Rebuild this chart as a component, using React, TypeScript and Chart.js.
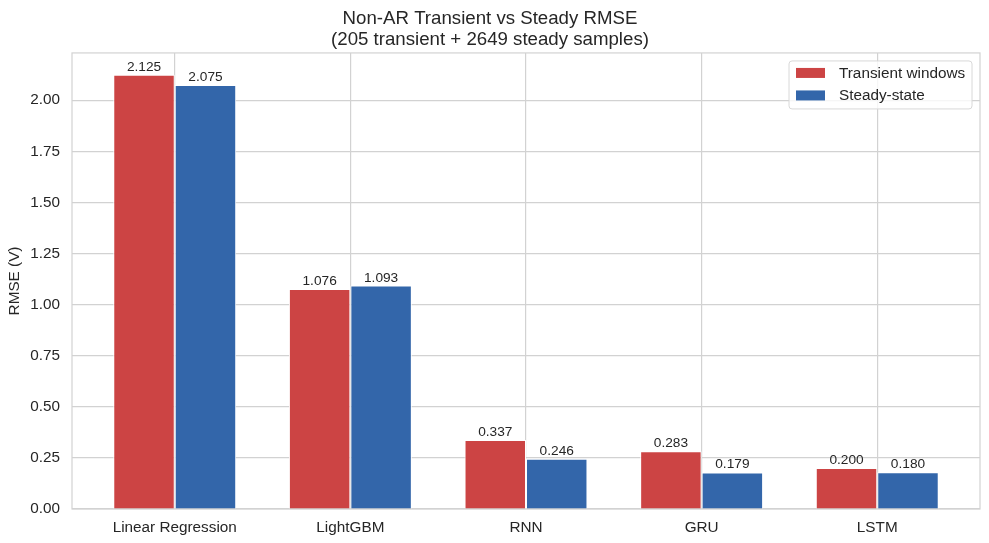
import React, { useEffect, useRef } from 'react';
import { Chart, registerables } from 'chart.js';

Chart.register(...registerables);

const categories = ['Linear Regression', 'LightGBM', 'RNN', 'GRU', 'LSTM'];
const transientRmse = [2.125, 1.076, 0.337, 0.283, 0.2];
const steadyRmse = [2.075, 1.093, 0.246, 0.179, 0.18];
const yTickValues = [0, 0.25, 0.5, 0.75, 1.0, 1.25, 1.5, 1.75, 2.0];
const seriesLabels = ['Transient windows', 'Steady-state'];
const seriesColors = ['#cc4444', '#3366aa'];
const titleLines = ['Non-AR Transient vs Steady RMSE', '(205 transient + 2649 steady samples)'];
const yAxisTitle = 'RMSE (V)';

const FONT = "'Liberation Sans', Arial, Helvetica, sans-serif";
const TEXT = '#262626';
const GRID = '#d2d2d2';

const frameBox = {
  id: 'frameBox',
  beforeDatasetsDraw(chart: any) {
    const { ctx, chartArea } = chart;
    ctx.save();
    ctx.strokeStyle = GRID;
    ctx.lineWidth = 1.2;
    ctx.strokeRect(chartArea.left, chartArea.top, chartArea.right - chartArea.left, chartArea.bottom - chartArea.top);
    ctx.restore();
  },
};

const valueLabels = {
  id: 'valueLabels',
  afterDatasetsDraw(chart: any) {
    const { ctx } = chart;
    ctx.save();
    ctx.font = `13.7px ${FONT}`;
    ctx.fillStyle = TEXT;
    ctx.textAlign = 'center';
    ctx.textBaseline = 'alphabetic';
    chart.data.datasets.forEach((ds: any, di: number) => {
      const meta = chart.getDatasetMeta(di);
      meta.data.forEach((bar: any, i: number) => {
        const v = ds.data[i].y as number;
        ctx.fillText(v.toFixed(3), bar.x, bar.y - 4);
      });
    });
    ctx.restore();
  },
};

const boxLegend = {
  id: 'boxLegend',
  afterDraw(chart: any) {
    const { ctx, chartArea } = chart;
    const w = 183;
    const h = 48;
    const left = chartArea.right - 8 - w;
    const top = chartArea.top + 8;
    ctx.save();
    ctx.beginPath();
    ctx.roundRect(left, top, w, h, 3);
    ctx.fillStyle = 'rgba(255,255,255,0.8)';
    ctx.fill();
    ctx.strokeStyle = '#d8d8d8';
    ctx.lineWidth = 1;
    ctx.stroke();
    ctx.font = `15.3px ${FONT}`;
    ctx.textBaseline = 'middle';
    ctx.textAlign = 'left';
    seriesLabels.forEach((label, i) => {
      const cy = top + 12 + i * 22.5;
      ctx.fillStyle = seriesColors[i];
      ctx.fillRect(left + 7, cy - 5, 29, 10);
      ctx.fillStyle = TEXT;
      ctx.fillText(label, left + 50, cy + 0.5);
    });
    ctx.restore();
  },
};

export default function App() {
  const canvasRef = useRef<HTMLCanvasElement | null>(null);

  useEffect(() => {
    document.body.style.margin = '0';
    const canvas = canvasRef.current;
    if (!canvas) return;
    const yMax = Math.max(...transientRmse, ...steadyRmse) * 1.05;
    const xMin = -0.35 - 0.05 * 4.7;
    const xMax = categories.length - 1 + 0.35 + 0.05 * 4.7;

    const chart = new Chart(canvas, {
      type: 'bar',
      data: {
        datasets: [
          {
            label: seriesLabels[0],
            data: transientRmse.map((v, i) => ({ x: i, y: v })),
            backgroundColor: seriesColors[0],
            borderColor: '#ffffff',
            borderWidth: 1,
            categoryPercentage: 0.7,
            barPercentage: 1.0,
          },
          {
            label: seriesLabels[1],
            data: steadyRmse.map((v, i) => ({ x: i, y: v })),
            backgroundColor: seriesColors[1],
            borderColor: '#ffffff',
            borderWidth: 1,
            categoryPercentage: 0.7,
            barPercentage: 1.0,
          },
        ],
      },
      options: {
        animation: false,
        responsive: true,
        maintainAspectRatio: false,
        layout: { padding: { left: 0, right: 9, top: 0, bottom: 0 } },
        plugins: {
          legend: { display: false },
          tooltip: { enabled: false },
          title: {
            display: true,
            text: titleLines,
            color: TEXT,
            font: { family: FONT, size: 18.67, weight: 'normal', lineHeight: 1.15 },
            padding: { top: 8, bottom: 2 },
          },
        },
        scales: {
          x: {
            type: 'linear',
            min: xMin,
            max: xMax,
            offset: false,
            afterBuildTicks(scale: any) {
              scale.ticks = categories.map((_, i) => ({ value: i }));
            },
            afterFit(scale: any) {
              scale.height = 34;
            },
            ticks: {
              autoSkip: false,
              maxRotation: 0,
              color: TEXT,
              font: { family: FONT, size: 15.3 },
              padding: 10,
              callback: (v: any) => categories[Math.round(Number(v))] ?? '',
            },
            grid: { color: GRID, lineWidth: 1.2, drawTicks: false, offset: false },
            border: { display: false },
          },
          y: {
            type: 'linear',
            min: 0,
            max: yMax,
            afterBuildTicks(scale: any) {
              scale.ticks = yTickValues.map((v) => ({ value: v }));
            },
            afterFit(scale: any) {
              scale.width = 72;
            },
            ticks: {
              color: TEXT,
              font: { family: FONT, size: 15.3 },
              padding: 12,
              callback: (v: any) => Number(v).toFixed(2),
            },
            grid: { color: GRID, lineWidth: 1.2, drawTicks: false },
            border: { display: false },
            title: {
              display: true,
              text: yAxisTitle,
              color: TEXT,
              font: { family: FONT, size: 15.3 },
              padding: { top: 6, bottom: 0 },
            },
          },
        },
      },
      plugins: [frameBox, valueLabels, boxLegend],
    } as any);

    return () => chart.destroy();
  }, []);

  return (
    <div style={{ width: 989, height: 543, position: 'relative' }}>
      <canvas ref={canvasRef} />
    </div>
  );
}
